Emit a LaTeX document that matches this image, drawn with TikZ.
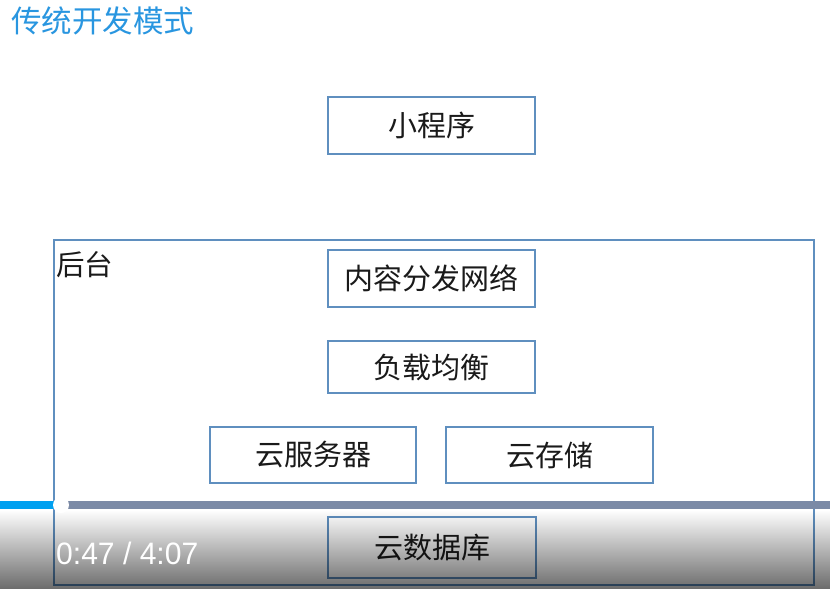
\documentclass[tikz,border=0pt]{standalone}
\usepackage{fontspec}
\newfontfamily\cjk{Noto Sans CJK SC}
\newfontfamily\uisans{Liberation Sans}
\usetikzlibrary{fadings}
\definecolor{titleblue}{HTML}{2996E0}
\definecolor{boxline}{HTML}{5F8FBF}
\definecolor{bargray}{HTML}{7B8AA6}
\definecolor{barblue}{HTML}{00A0F0}
\definecolor{txt}{HTML}{1A1A1A}
\tikzset{
  box/.style={draw=boxline, line width=1.2pt, fill=white, inner sep=0pt, font=\cjk\fontsize{29}{32}\selectfont, text=txt},
}
\begin{document}
\begin{tikzpicture}[x=1pt,y=-1pt]
\useasboundingbox (0,0) rectangle (830,589);
\fill[white] (0,0) rectangle (830,589);
% title
\node[anchor=west, inner sep=0pt, text=titleblue, font=\cjk\fontsize{30.5}{33}\selectfont] (title) at (11,21) {传统开发模式};
% outer backend box
\draw[boxline, line width=1.2pt] (54,240) rectangle (814,585);
\node[anchor=west, inner sep=0pt, text=txt, font=\cjk\fontsize{28.5}{31}\selectfont] (backend) at (56,265) {后台};
% boxes
\node[box, minimum width=207pt, minimum height=57pt] (mp) at (431.5,125.5) {小程序};
\node[box, minimum width=207pt, minimum height=57pt] (cdn) at (431.5,278.5) {内容分发网络};
\node[box, minimum width=207pt, minimum height=52pt] (lb) at (431.5,367) {负载均衡};
\node[box, minimum width=206pt, minimum height=56pt] (srv) at (313,455) {云服务器};
\node[box, minimum width=207pt, minimum height=56pt] (sto) at (549.5,455) {云存储};
\node[box, minimum width=208pt, minimum height=61pt] (db) at (432,547.5) {云数据库};
% video player overlay
\fill[black, opacity=0.58, path fading=north] (0,510) rectangle (830,589);
\fill[bargray] (0,501) rectangle (830,509);
\fill[barblue] (0,501) rectangle (60,509);
\fill[white] (61,505) circle (8);
\node[anchor=west, inner sep=0pt, text=white, xscale=0.97, font=\uisans\fontsize{31}{34}\selectfont] (time) at (56,553) {0:47 / 4:07};
\end{tikzpicture}
\end{document}
